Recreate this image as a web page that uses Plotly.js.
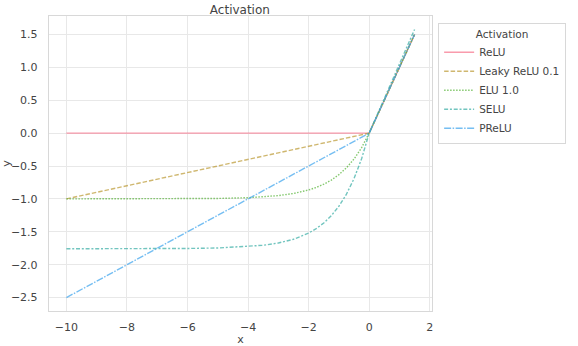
<!DOCTYPE html>
<html>
<head>
<meta charset="utf-8">
<script src="https://cdn.plot.ly/plotly-3.0.1.min.js"></script>
<style>html,body{margin:0;padding:0;background:#fff;}#chart{width:578px;height:346px;}</style>
</head>
<body>
<div id="chart"></div>
<script>
// x positions at which the curves were read
const xValues = [-10, -9, -8, -7, -6, -5, -4, -3.5, -3, -2.5, -2, -1.75, -1.5, -1.25, -1, -0.75, -0.5, -0.25, 0, 0.5, 1, 1.5];

const reluY  = [0, 0, 0, 0, 0, 0, 0, 0, 0, 0, 0, 0, 0, 0, 0, 0, 0, 0, 0, 0.5, 1, 1.5];
const leakyY = [-1.0, -0.9, -0.8, -0.7, -0.6, -0.5, -0.4, -0.35, -0.3, -0.25, -0.2, -0.175, -0.15, -0.125, -0.1, -0.075, -0.05, -0.025, 0, 0.5, 1, 1.5];
const eluY   = [-1.0, -0.9999, -0.9997, -0.9991, -0.9975, -0.9933, -0.9817, -0.9698, -0.9502, -0.9179, -0.8647, -0.8262, -0.7769, -0.7135, -0.6321, -0.5276, -0.3935, -0.2212, 0, 0.5, 1, 1.5];
const seluY  = [-1.758, -1.7579, -1.7575, -1.7565, -1.7537, -1.7463, -1.7259, -1.705, -1.6706, -1.6138, -1.5202, -1.4525, -1.3659, -1.2544, -1.1113, -0.9276, -0.6918, -0.3889, 0, 0.5254, 1.0507, 1.5761];
const preluY = [-2.5, -2.25, -2.0, -1.75, -1.5, -1.25, -1.0, -0.875, -0.75, -0.625, -0.5, -0.4375, -0.375, -0.3125, -0.25, -0.1875, -0.125, -0.0625, 0, 0.5, 1, 1.5];

const seriesNames = ["ReLU", "Leaky ReLU 0.1", "ELU 1.0", "SELU", "PReLU"];
const seriesY = [reluY, leakyY, eluY, seluY, preluY];
const seriesColors = ["#f77189", "#bb9832", "#50b131", "#36ada4", "#3ba3ec"];
const seriesDash = ["solid", "4.5px,2px", "1.5px,1.5px", "4px,1.8px,2px,1.8px", "7px,1.5px,1.5px,1.5px"];

const xTicks = [-10, -8, -6, -4, -2, 0, 2];
const yTicks = [-2.5, -2.0, -1.5, -1.0, -0.5, 0.0, 0.5, 1.0, 1.5];

const font = "DejaVu Sans, sans-serif";
const textColor = "#444444";
const traces = seriesNames.map((n, i) => ({
  type: "scatter", mode: "lines", name: n,
  x: xValues, y: seriesY[i],
  line: {color: seriesColors[i], width: 1.4, dash: seriesDash[i]},
  opacity: 0.7
}));

const layout = {
  width: 578, height: 346,
  margin: {l: 49, r: 146, t: 16, b: 35, pad: 0},
  paper_bgcolor: "#fff", plot_bgcolor: "#fff",
  font: {family: font, size: 11, color: textColor},
  title: {text: "Activation", font: {family: font, size: 12, color: textColor}, x: 0.415, xanchor: "center", y: 0.985, yanchor: "top"},
  xaxis: {
    range: [-10.575, 2.075], tickvals: xTicks, ticktext: xTicks.map(v => v < 0 ? "\u2212" + Math.abs(v) : String(v)),
    showgrid: true, gridcolor: "#e8e8e8", gridwidth: 1, zeroline: false,
    showline: true, mirror: true, linecolor: "#d8d8d8", linewidth: 1.2,
    ticks: "outside", ticklen: 6, tickcolor: "rgba(0,0,0,0)",
    title: {text: "x", font: {family: font, size: 11, color: textColor}, standoff: 2}
  },
  yaxis: {
    range: [-2.704, 1.78], tickvals: yTicks, ticktext: yTicks.map(v => (v < 0 ? "\u2212" : "") + Math.abs(v).toFixed(1)),
    showgrid: true, gridcolor: "#e8e8e8", gridwidth: 1, zeroline: false,
    showline: true, mirror: true, linecolor: "#d8d8d8", linewidth: 1.2,
    ticks: "outside", ticklen: 8, tickcolor: "rgba(0,0,0,0)",
    title: {text: "y", font: {family: font, size: 11, color: textColor}, standoff: 6}
  },
  legend: {
    x: 1.016, y: 0.976, xanchor: "left", yanchor: "top",
    bgcolor: "#fff", bordercolor: "#d8d8d8", borderwidth: 1,
    font: {family: font, size: 10.5, color: textColor},
    title: {text: "Activation", side: "top center", font: {family: font, size: 10.5, color: textColor}},
    tracegroupgap: 0, itemwidth: 30
  },
  showlegend: true
};

Plotly.newPlot("chart", traces, layout, {staticPlot: true, displayModeBar: false});
</script>
</body>
</html>
